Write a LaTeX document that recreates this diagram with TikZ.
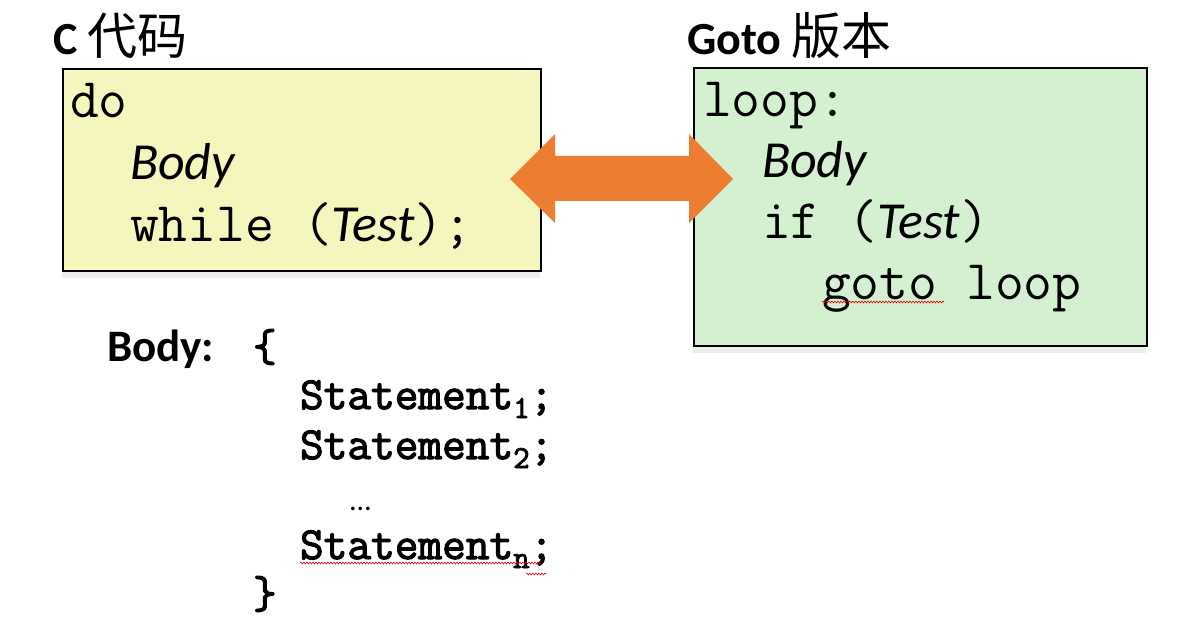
\documentclass[tikz,border=0pt]{standalone}
\usepackage{fontspec}
\setmainfont{Carlito}
\newfontfamily\cjk{Noto Sans CJK SC}
\newfontfamily\boldtt[FakeBold=2.5]{Latin Modern Mono}
\usetikzlibrary{decorations.pathmorphing}
\definecolor{boxyellow}{HTML}{F5F5BE}
\definecolor{boxgreen}{HTML}{D5F0D0}
\definecolor{arroworange}{HTML}{ED7D31}
\definecolor{shadowgray}{HTML}{EDEDED}
\newcommand\itx[1]{{\rmfamily\itshape\fontsize{52}{52}\selectfont #1}}
\newcommand\subtt[1]{\raisebox{-9pt}{\boldtt\fontsize{32}{32}\selectfont #1}}
\begin{document}
\begin{tikzpicture}[x=1pt,y=-1pt,
  txt/.style={anchor=base west,inner sep=0pt,outer sep=0pt},
  code/.style={txt,font=\ttfamily\fontsize{56}{56}\selectfont},
  itbody/.style={txt,font=\rmfamily\itshape\fontsize{52}{52}\selectfont},
  title/.style={txt,font=\rmfamily\fontsize{46}{46}\selectfont},
  bcode/.style={txt,font=\boldtt\fontsize{46}{46}\selectfont},
  codebox/.style={draw=black,line width=2pt,inner sep=0pt,anchor=north west},
  shadowbox/.style={fill=shadowgray,draw=none,inner sep=0pt,anchor=north west},
  wavy/.style={draw=red!85!black,line width=0.6pt,decorate,decoration={snake,amplitude=0.9pt,segment length=3pt}}
]
\useasboundingbox (0,0) rectangle (1202,639);
% shadows
\node[shadowbox,minimum width=478pt,minimum height=10pt] (shy) at (62,268) {};
\node[shadowbox,minimum width=453pt,minimum height=10pt] (shg) at (693,343) {};
% boxes
\node[codebox,fill=boxyellow,minimum width=478pt,minimum height=202pt] (cbox) at (62,68) {};
\node[codebox,fill=boxgreen,minimum width=453pt,minimum height=278pt] (gbox) at (693,67) {};
% titles
\node[title] (ctitle) at (53,55) {\bfseries C \mdseries{\cjk\fontsize{50}{50}\selectfont 代码}};
\node[title] (gtitle) at (687,55) {\bfseries Goto \mdseries{\cjk\fontsize{50}{50}\selectfont 版本}};
% C code
\node[code] (do) at (70,118) {do};
\node[itbody] (body1) at (130,180) {Body};
\node[code] (while) at (130,241) {while (\itx{Test});};
% Goto code
\node[code] (loop) at (703,117) {loop:};
\node[itbody] (body2) at (762,178) {Body};
\node[code] (if) at (762,239) {if (\itx{Test})};
\node[code] (goto) at (822,299) {goto loop};
% double arrow
\fill[arroworange] (510,179) -- (555,134) -- (555,156) -- (689,156) -- (689,134)
  -- (733,179) -- (689,223) -- (689,201) -- (555,201) -- (555,223) -- cycle;
% body definition
\node[txt,font=\rmfamily\bfseries\fontsize{45}{45}\selectfont] (bodylbl) at (107,361) {Body:};
\node[bcode] (lbrace) at (253,361) {\{};
\node[bcode] (s1) at (300,409) {Statement\subtt{1};};
\node[bcode] (s2) at (300,459) {Statement\subtt{2};};
\node[txt,font=\rmfamily\fontsize{30}{30}\selectfont] (dots) at (350,510) {\dots};
\node[bcode] (sn) at (300,559) {Statement\subtt{n};};
\node[bcode] (rbrace) at (253,608) {\}};
% spell-check underlines
\draw[wavy] (822,302) -- (944,302);
\draw[wavy] (300,563) -- (541,563);
\draw[wavy] (526,574) -- (546,574);
\end{tikzpicture}
\end{document}
